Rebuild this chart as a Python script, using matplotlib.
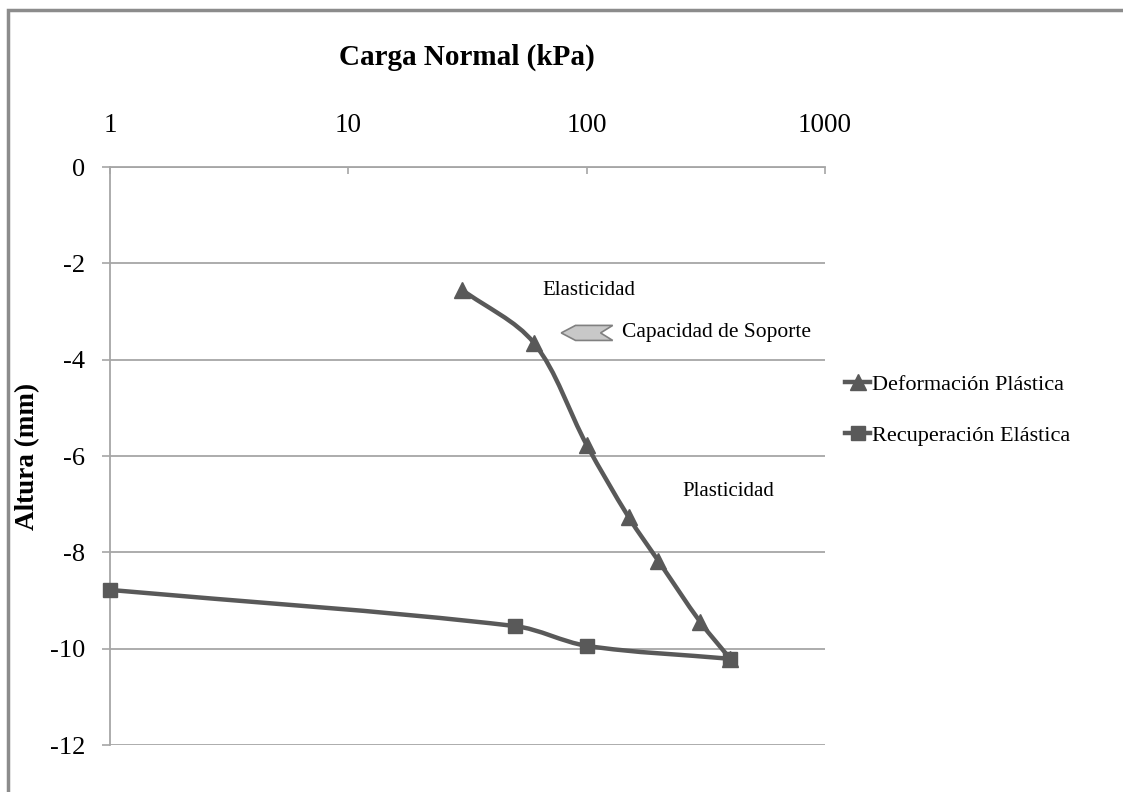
import numpy as np
import matplotlib
matplotlib.use('Agg')
from matplotlib import pyplot as plt
from matplotlib.path import Path
from matplotlib.patches import PathPatch, Polygon, Rectangle
from matplotlib.lines import Line2D

plt.rcParams['font.family'] = ['Liberation Serif', 'DejaVu Serif']
plt.rcParams['axes.unicode_minus'] = False

# data
carga_def = [30, 60, 100, 150, 200, 300, 400]
altura_def = [-2.55, -3.65, -5.77, -7.27, -8.18, -9.45, -10.21]
carga_rec = [1, 50, 100, 400]
altura_rec = [-8.78, -9.53, -9.94, -10.21]
x_ticks = [1, 10, 100, 1000]
y_ticks = [0, -2, -4, -6, -8, -10, -12]

line_col = '#595959'
grid_col = '#a6a6a6'
XSCALE = 4.95  # px per decade / px per mm, so the smoothing works in screen-like space


def smooth_path(xs, ys):
    # excel-like smoothed line, bezier segments with chord-weighted tangents
    p = np.column_stack([np.log10(xs) * XSCALE, ys])
    n = len(p)
    d = np.linalg.norm(np.diff(p, axis=0), axis=1)
    verts = [p[0]]
    codes = [Path.MOVETO]
    for i in range(n - 1):
        if i == 0:
            c1 = p[0] + (p[1] - p[0]) / 3
        else:
            c1 = p[i] + (p[i + 1] - p[i - 1]) * d[i] / (d[i - 1] + d[i]) / 3
        if i == n - 2:
            c2 = p[i + 1] - (p[i + 1] - p[i]) / 3
        else:
            c2 = p[i + 1] - (p[i + 2] - p[i]) * d[i] / (d[i] + d[i + 1]) / 3
        verts += [c1, c2, p[i + 1]]
        codes += [Path.CURVE4] * 3
    verts = np.array(verts)
    verts[:, 0] = 10 ** (verts[:, 0] / XSCALE)
    return Path(verts, codes)


fig = plt.figure(figsize=(11.23, 7.92), dpi=100)
ax = fig.add_axes([0.098, 0.0593, 0.6367, 0.7298])

ax.set_xscale('log')
ax.set_xlim(1, 1000)
ax.set_ylim(-12, 0)

for xs, ys in [(carga_def, altura_def), (carga_rec, altura_rec)]:
    ax.add_patch(PathPatch(smooth_path(xs, ys), fill=False, edgecolor=line_col,
                           lw=3.2, capstyle='round', joinstyle='round', zorder=3,
                           clip_on=False))
ax.plot(carga_def, altura_def, linestyle='none', marker='^', markersize=11,
        color=line_col, zorder=4, clip_on=False)
ax.plot(carga_rec, altura_rec, linestyle='none', marker='s', markersize=10,
        color=line_col, zorder=4, clip_on=False)

# axes styling
ax.xaxis.tick_top()
ax.set_xticks(x_ticks)
ax.set_xticklabels([str(t) for t in x_ticks])
ax.xaxis.set_minor_locator(matplotlib.ticker.NullLocator())
ax.tick_params(axis='x', direction='in', length=5, color=grid_col, pad=21,
               labelsize=19.5, width=1.2)
ax.set_yticks(y_ticks)
ax.tick_params(axis='y', direction='out', length=6, color=grid_col, pad=12,
               labelsize=19, width=1.2)
ax.yaxis.grid(True, color=grid_col, lw=1.3)
ax.set_axisbelow(True)
for s in ['right', 'bottom']:
    ax.spines[s].set_visible(False)
for s in ['top', 'left']:
    ax.spines[s].set_color(grid_col)
    ax.spines[s].set_linewidth(1.3)

fig.text(0.416, 1 - 57 / 792, 'Carga Normal (kPa)', fontsize=21, fontweight='bold',
         ha='center', va='center')
ax.set_ylabel('Altura (mm)', fontsize=19.5, fontweight='bold')
ax.yaxis.set_label_coords(-0.098, 0.5)

# annotations
ax.text(0.669, 0.787, 'Elasticidad', transform=ax.transAxes, fontsize=15,
        ha='center', va='center')
ax.text(0.864, 0.438, 'Plasticidad', transform=ax.transAxes, fontsize=15,
        ha='center', va='center')
ax.text(0.716, 0.713, 'Capacidad de Soporte', transform=ax.transAxes, fontsize=15.5,
        ha='left', va='center')
arrow = Polygon([(0.631, 0.713), (0.651, 0.726), (0.703, 0.726), (0.686, 0.713),
                 (0.703, 0.700), (0.651, 0.700)], closed=True,
                transform=ax.transAxes, facecolor='#c8c8c8', edgecolor='#808080',
                lw=1.2, clip_on=False)
ax.add_patch(arrow)

# legend
handles = [Line2D([], [], color=line_col, lw=3.2, marker='^', markersize=11),
           Line2D([], [], color=line_col, lw=3.2, marker='s', markersize=10)]
fig.legend(handles, ['Deformación Plástica', 'Recuperación Elástica'],
           loc='center left', bbox_to_anchor=(0.735, 1 - 410 / 792), frameon=False,
           fontsize=16, handlelength=1.1, handletextpad=0.1, labelspacing=1.35)

# outer border
fig.add_artist(Rectangle((8 / 1123, -0.05), 1.2, 1 - 10 / 792 + 0.05,
                         transform=fig.transFigure, fill=False,
                         edgecolor='#8c8c8c', lw=2.5))

fig.savefig('out.png', dpi=100)
